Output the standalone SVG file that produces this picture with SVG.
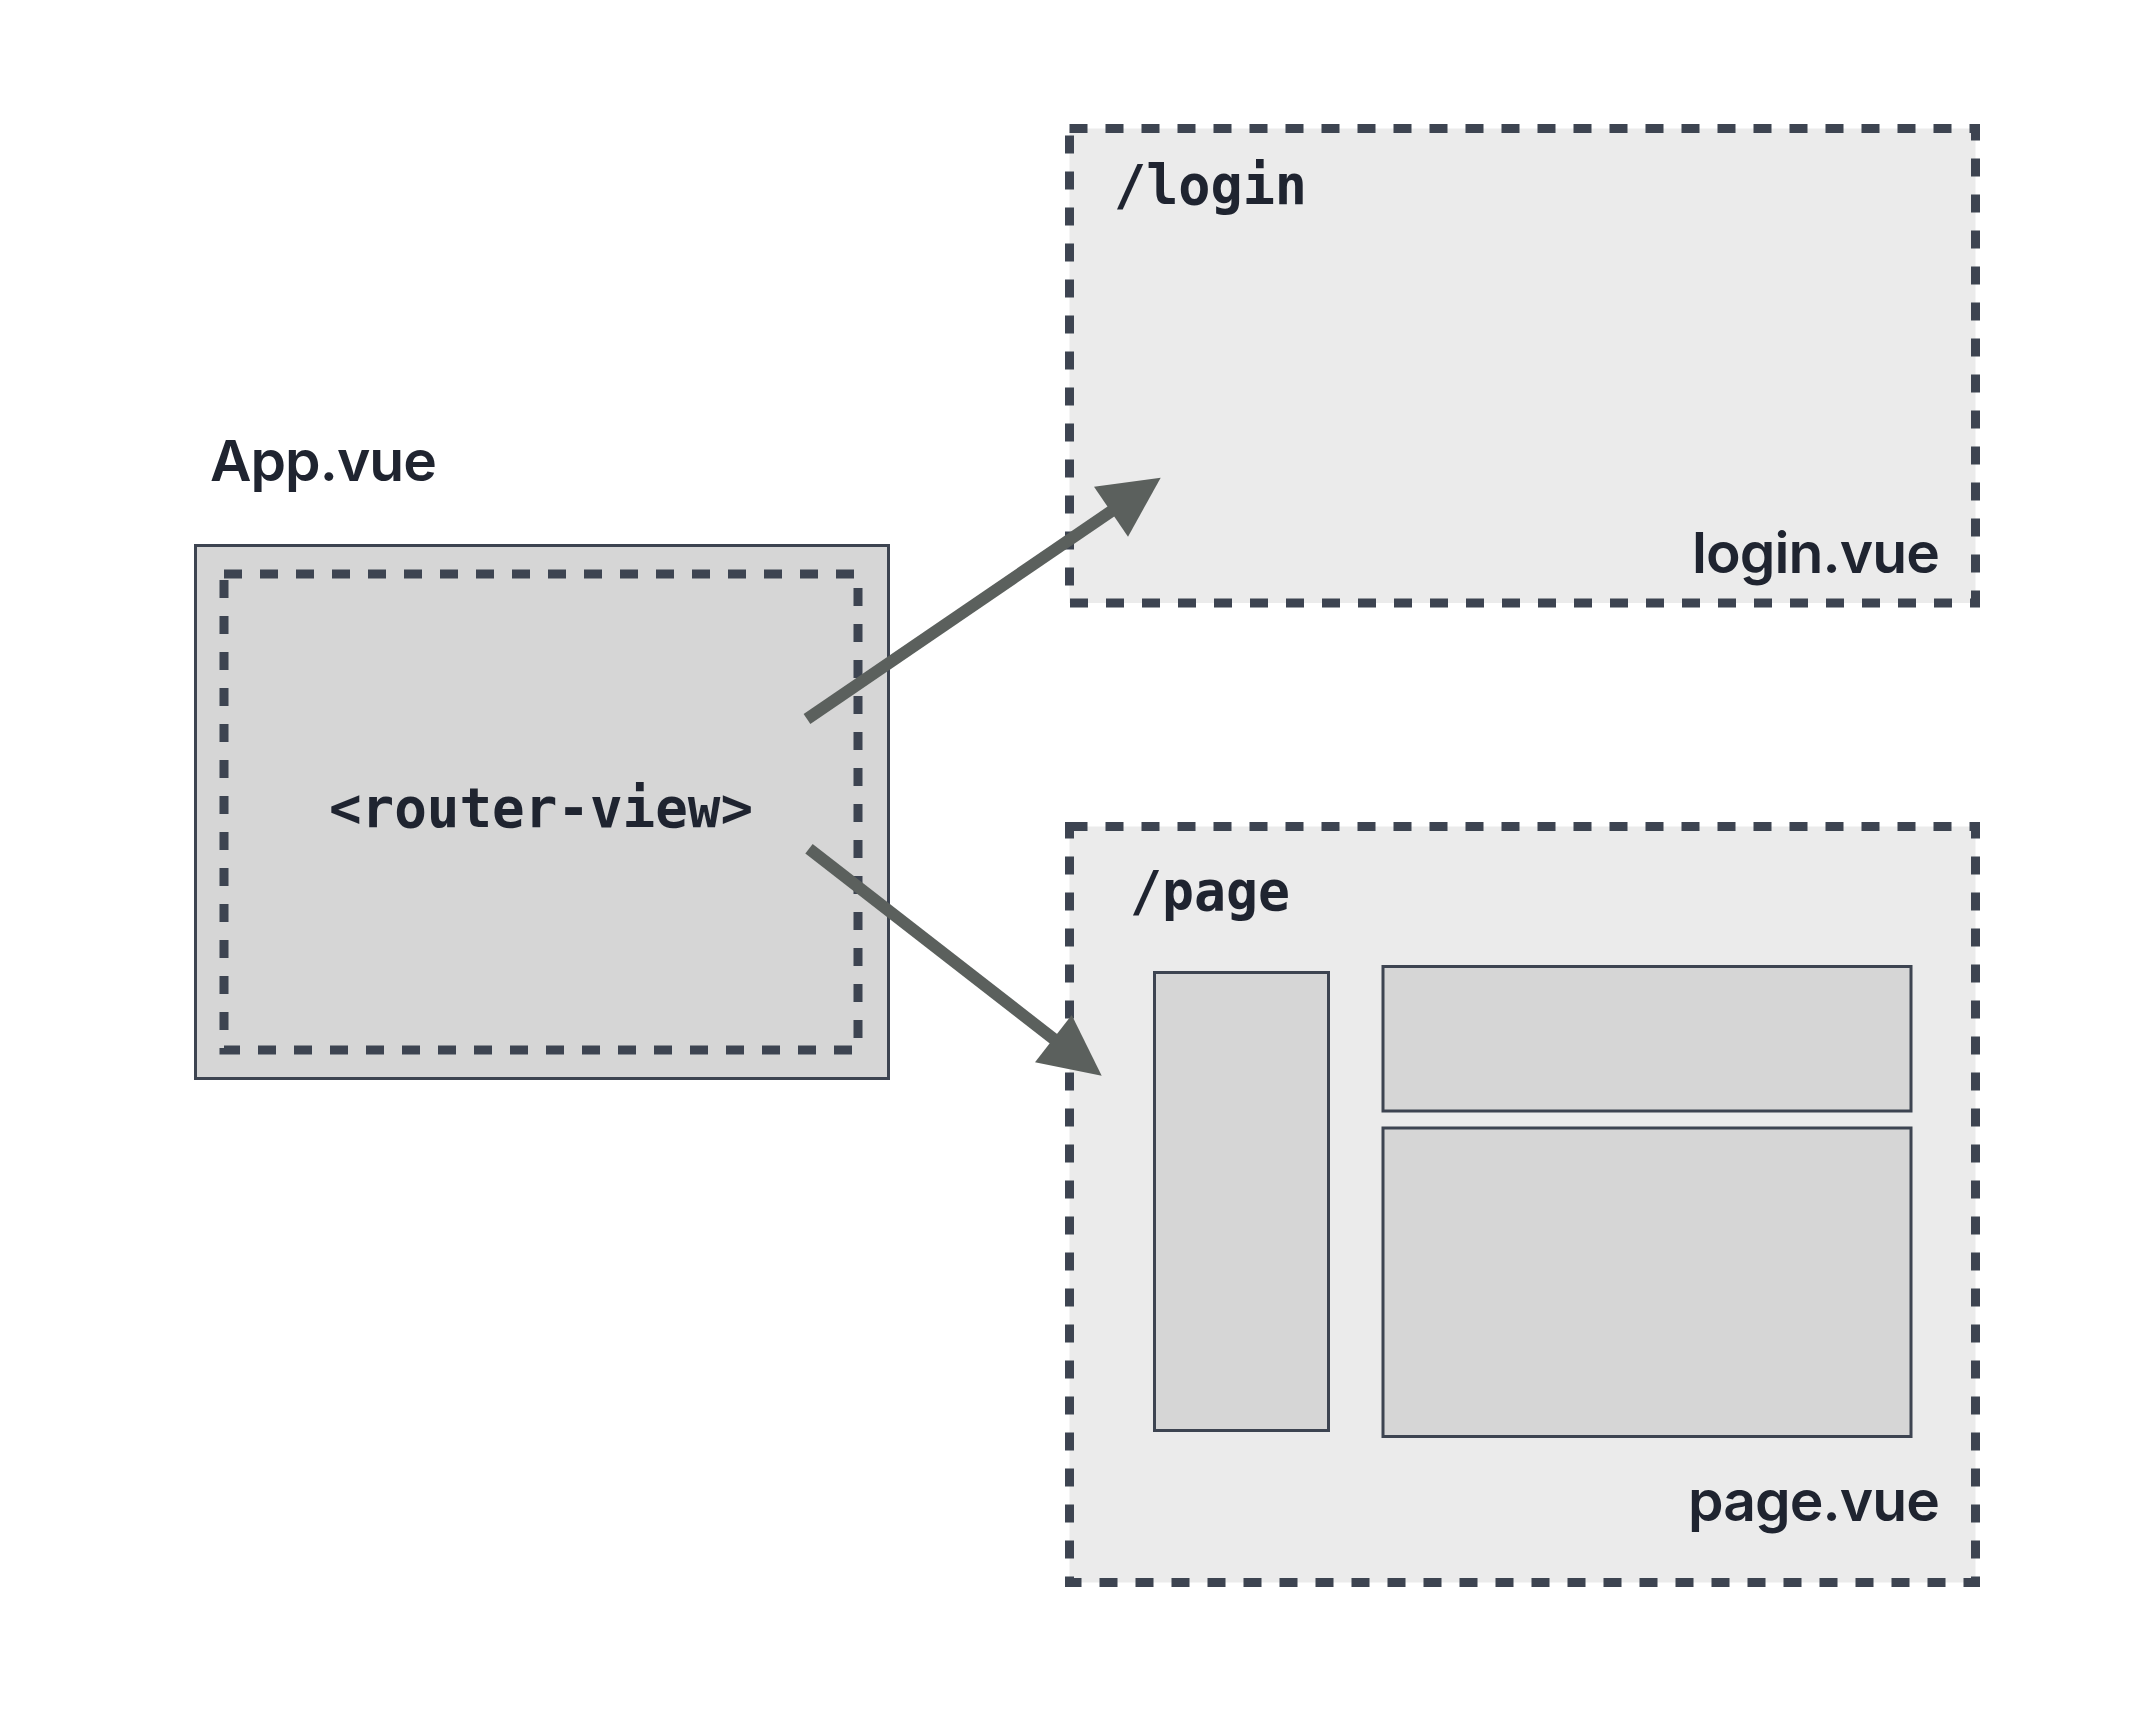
<svg xmlns="http://www.w3.org/2000/svg" width="2142" height="1728" viewBox="0 0 2142 1728">
<style>
.solid{fill:#d6d6d6;stroke:#3d4451;stroke-width:3}
.dash{stroke:#3d4451;stroke-width:9;stroke-dasharray:18 18}
.lt{fill:#ebebeb}
.sans{font-family:Inter,"Liberation Sans",sans-serif;font-weight:600;font-size:57px;fill:#1f2430}
.mono{font-family:"DejaVu Sans Mono","Liberation Mono",monospace;font-weight:bold;font-size:55px;fill:#1f2430}
.shaft{stroke:#5b605d;stroke-width:12;fill:none}
.head{fill:#5b605d}
</style>
<rect width="2142" height="1728" fill="#ffffff"/>
<g id="app">
<text class="sans" x="210" y="481" textLength="227" lengthAdjust="spacing">App.vue</text>
<rect class="solid" x="195.5" y="545.5" width="693" height="533"/>
<rect id="router-view" class="dash" fill="none" x="224" y="574" width="634" height="476"/>
<text class="mono" x="541" y="827" text-anchor="middle" textLength="424" lengthAdjust="spacingAndGlyphs">&lt;router-view&gt;</text>
</g>
<g id="login">
<rect class="lt dash" x="1069.5" y="128.5" width="906" height="474.5"/>
<text class="mono" x="1114" y="204" textLength="193" lengthAdjust="spacingAndGlyphs">/login</text>
<text class="sans" x="1940" y="573" text-anchor="end" textLength="248" lengthAdjust="spacing">login.vue</text>
</g>
<g id="page">
<rect class="lt dash" x="1069.5" y="826.5" width="906" height="756"/>
<text class="mono" x="1130" y="910" textLength="160" lengthAdjust="spacingAndGlyphs">/page</text>
<rect class="solid" x="1154.5" y="972.5" width="174" height="458"/>
<rect class="solid" x="1383" y="966.5" width="528" height="144.5"/>
<rect class="solid" x="1383" y="1128" width="528" height="308.5"/>
<text class="sans" x="1940" y="1521" text-anchor="end" textLength="252" lengthAdjust="spacing">page.vue</text>
</g>
<g id="connectors">
<line class="shaft" x1="807" y1="719" x2="1116" y2="508"/>
<polygon class="head" points="1160.7,477.7 1094,486.7 1128,536.7"/>
<line class="shaft" x1="809" y1="848.7" x2="1057" y2="1041.5"/>
<polygon class="head" points="1101.7,1075.7 1035,1062.3 1071.7,1015"/>
</g>
</svg>
